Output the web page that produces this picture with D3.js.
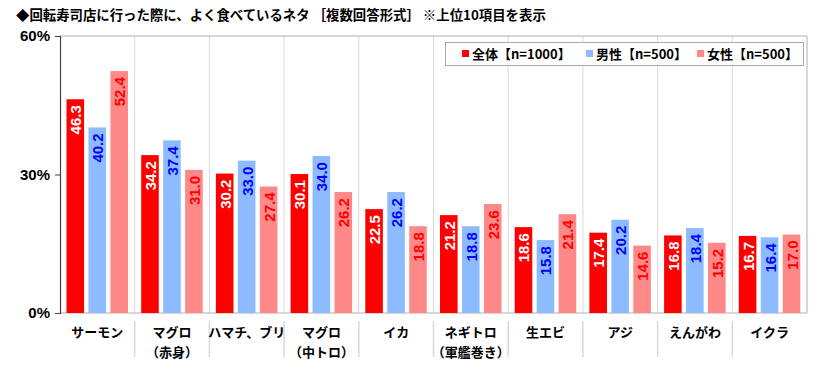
<!DOCTYPE html>
<html>
<head>
<meta charset="utf-8">
<script src="https://cdn.jsdelivr.net/npm/d3@7"></script>
<style>
  body { margin: 0; background: #fff; }
  svg text { font-family: "Liberation Sans", Arial, "Noto Sans CJK JP", sans-serif; }
  .jp { font-family: "Noto Sans CJK JP", sans-serif; font-weight: bold; }
</style>
</head>
<body>
<svg id="chart" width="826" height="390"></svg>
<script>
const categories = [
  ["サーモン"], ["マグロ", "（赤身）"], ["ハマチ、ブリ"], ["マグロ", "（中トロ）"], ["イカ"],
  ["ネギトロ", "（軍艦巻き）"], ["生エビ"], ["アジ"], ["えんがわ"], ["イクラ"]
];
const seriesNames = ["全体【n=1000】", "男性【n=500】", "女性【n=500】"];
const total = [46.3, 34.2, 30.2, 30.1, 22.5, 21.2, 18.6, 17.4, 16.8, 16.7];
const male = [40.2, 37.4, 33.0, 34.0, 26.2, 18.8, 15.8, 20.2, 18.4, 16.4];
const female = [52.4, 31.0, 27.4, 26.2, 18.8, 23.6, 21.4, 14.6, 15.2, 17.0];
const yTicks = [0, 30, 60];

const fills = ["#ff0000", "#8cbcff", "#ff8888"];
const labelColors = ["#ffffff", "#0000ff", "#ff0000"];
const series = [total, male, female];

const svg = d3.select("#chart");
const m = { left: 60, right: 807, top: 36, bottom: 313 };

const x = d3.scaleBand().domain(d3.range(categories.length)).range([m.left, m.right]).padding(0);
const xs = d3.scaleBand().domain(d3.range(3)).range([6.5, 68]).paddingInner(0.2).paddingOuter(0);
const y = d3.scaleLinear().domain([0, 60]).range([m.bottom, m.top]);

// title
svg.append("text").attr("class", "jp")
  .attr("x", 16).attr("y", 20).attr("font-size", 13.4)
  .text("◆回転寿司店に行った際に、よく食べているネタ ［複数回答形式］ ※上位10項目を表示");

// vertical gridlines at category boundaries
svg.append("g").selectAll("line")
  .data(d3.range(1, categories.length))
  .join("line")
  .attr("x1", d => x(d)).attr("x2", d => x(d))
  .attr("y1", m.top).attr("y2", m.bottom)
  .attr("stroke", "#d9d9d9").attr("stroke-width", 1);

// separators below the axis
svg.append("g").selectAll("line")
  .data(d3.range(1, categories.length))
  .join("line")
  .attr("x1", d => x(d)).attr("x2", d => x(d))
  .attr("y1", 321).attr("y2", 357)
  .attr("stroke", "#d9d9d9").attr("stroke-width", 1.5);

// plot border top / right / bottom
svg.append("path")
  .attr("d", `M${m.left},${m.top}H${m.right}V${m.bottom}H${m.left}`)
  .attr("fill", "none").attr("stroke", "#b0b0b0").attr("stroke-width", 1);

// bars
const groups = svg.append("g").selectAll("g")
  .data(categories.map((c, i) => i))
  .join("g")
  .attr("transform", i => `translate(${x(i)},0)`);

series.forEach((vals, s) => {
  groups.append("rect")
    .attr("x", xs(s))
    .attr("y", i => y(vals[i]))
    .attr("width", xs.bandwidth())
    .attr("height", i => y(0) - y(vals[i]))
    .attr("fill", fills[s]);
  groups.append("text")
    .attr("transform", i => `translate(${xs(s) + xs.bandwidth() / 2 + 0.5},${y(vals[i]) + 6}) rotate(-90)`)
    .attr("text-anchor", "end")
    .attr("dominant-baseline", "central")
    .attr("font-size", 15).attr("font-weight", "bold")
    .attr("fill", labelColors[s])
    .text(i => vals[i].toFixed(1));
});

// y axis
const yAxis = d3.axisLeft(y).tickValues(yTicks).tickSize(5).tickFormat(d => d + "%");
const ga = svg.append("g").attr("transform", `translate(${m.left},0)`).call(yAxis);
ga.select(".domain").attr("stroke", "#444").attr("stroke-width", 1.2);
ga.selectAll(".tick line").attr("stroke", "#444");
ga.selectAll(".tick text")
  .attr("x", -10)
  .attr("font-size", 15).attr("font-weight", "bold").attr("fill", "#000")
  .attr("font-family", "'Liberation Sans', Arial, sans-serif");

// x labels
const xl = svg.append("g").selectAll("text")
  .data(categories.map((c, i) => i))
  .join("text")
  .attr("class", "jp")
  .attr("font-size", 13)
  .attr("text-anchor", "middle");
xl.each(function (i) {
  const t = d3.select(this);
  categories[i].forEach((line, k) => {
    t.append("tspan")
      .attr("x", x(i) + x.bandwidth() / 2)
      .attr("y", 337 + k * 20)
      .text(line);
  });
});

// legend
const lg = svg.append("g");
lg.append("rect")
  .attr("x", 445.5).attr("y", 42.5).attr("width", 358).attr("height", 23)
  .attr("fill", "#fff").attr("stroke", "#aaaaaa");
const legendX = [462, 586, 697];
seriesNames.forEach((name, s) => {
  lg.append("rect")
    .attr("x", legendX[s]).attr("y", 50).attr("width", 7).attr("height", 7)
    .attr("fill", fills[s]);
  lg.append("text").attr("class", "jp")
    .attr("x", legendX[s] + 10).attr("y", 59)
    .attr("font-size", 13)
    .text(name);
});
</script>
</body>
</html>
